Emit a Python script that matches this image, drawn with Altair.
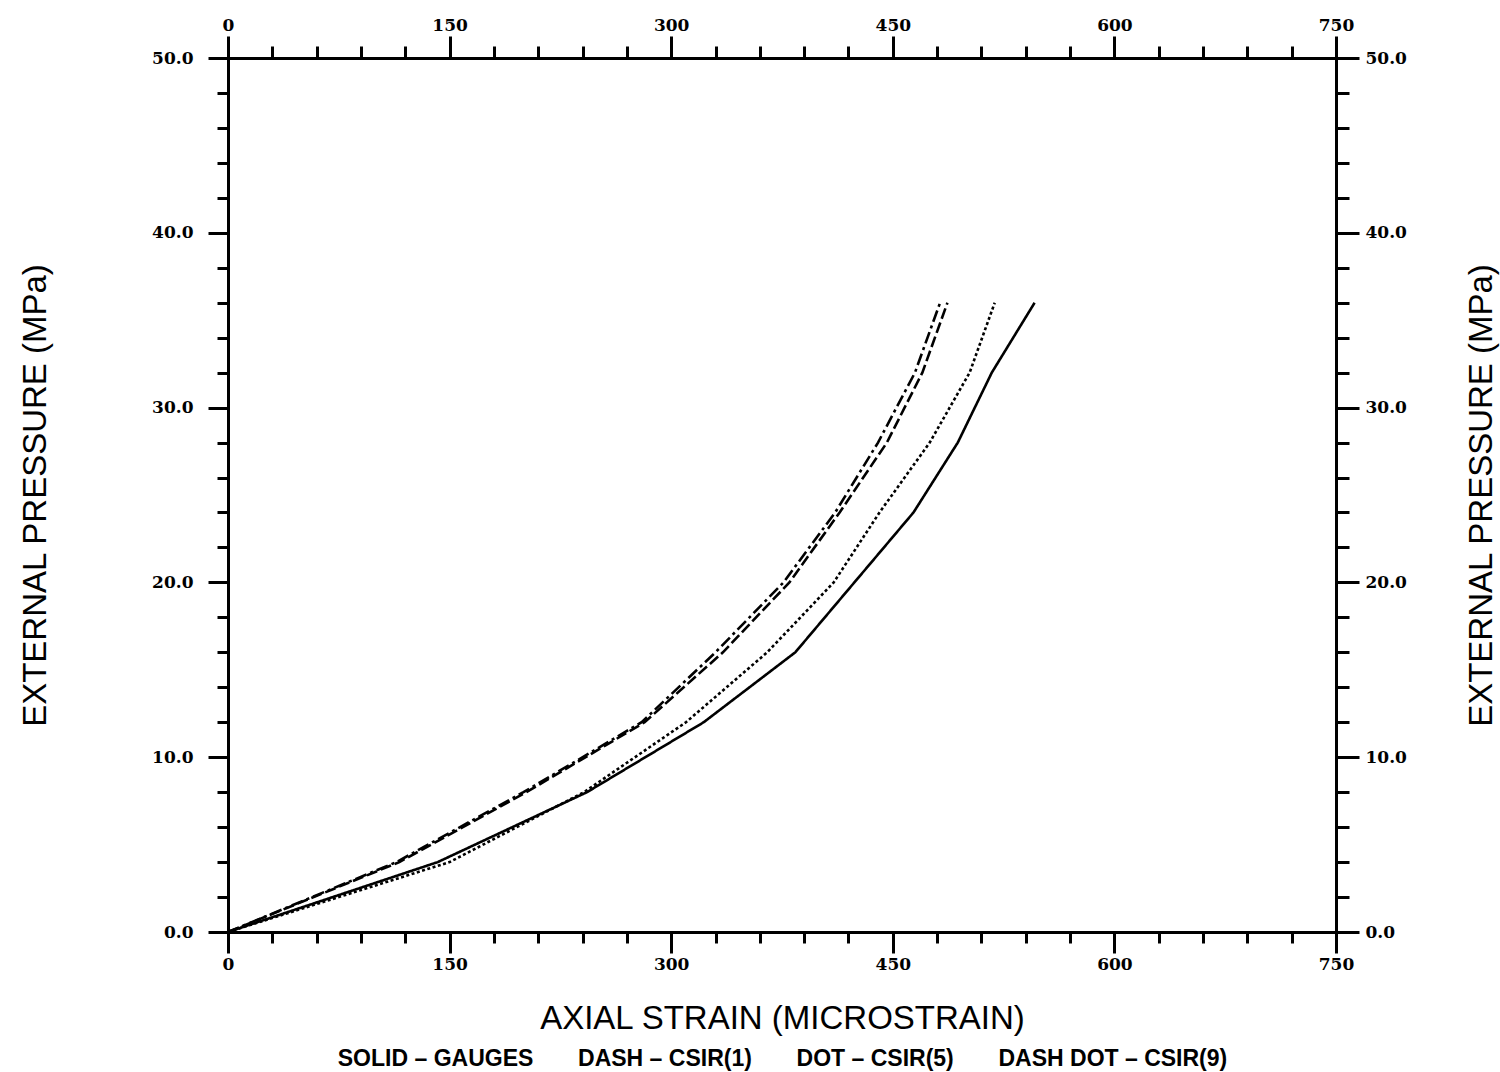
import altair as alt
import pandas as pd

# ---- data ----
pressure = [0, 4, 8, 12, 16, 20, 24, 28, 32, 36]          # MPa
gauges = [0, 142, 243, 322, 384, 424, 464, 494, 517, 546]  # solid
csir1 = [0, 116, 202, 282, 335, 380, 414, 446, 470, 487]   # dash
csir5 = [0, 150, 241, 310, 365, 410, 441, 475, 502, 519]   # dot
csir9 = [0, 114, 200, 280, 330, 376, 411, 440, 465, 482]   # dash dot
series_names = ["GAUGES", "CSIR(1)", "CSIR(5)", "CSIR(9)"]
dash_patterns = [[1, 0], [11, 4], [3, 2.5], [12, 4, 3, 4]]

x_minor = list(range(0, 751, 30))
x_major = list(range(0, 751, 150))
y_minor = list(range(0, 51, 2))
y_major = list(range(0, 51, 10))

x_title = "AXIAL STRAIN (MICROSTRAIN)"
y_title = "EXTERNAL PRESSURE (MPa)"
nb = "\u00a0" * 7
legend_text = ("SOLID \u2013 GAUGES" + nb + "DASH \u2013 CSIR(1)" + nb +
               "DOT \u2013 CSIR(5)" + nb + "DASH DOT \u2013 CSIR(9)")

rows = []
for name, vals in zip(series_names, [gauges, csir1, csir5, csir9]):
    for i, (p, s) in enumerate(zip(pressure, vals)):
        rows.append({"series": name, "strain": s, "pressure": p, "idx": i})
df = pd.DataFrame(rows)

xs = alt.Scale(domain=[0, 750], nice=False, zero=False)
ys = alt.Scale(domain=[0, 50], nice=False, zero=False)

common = dict(
    grid=False,
    domainColor="black", domainWidth=3,
    tickColor="black", tickWidth=3,
    labelFont="DejaVu Serif", labelFontWeight="bold", labelFontSize=17,
    labelColor="black", labelOverlap=False, labelFlush=False,
    titleFont="Liberation Sans", titleColor="black",
)

# bottom / left minor (lines layer)
ax_b_minor = alt.Axis(orient="bottom", values=x_minor, tickSize=11, labels=False,
                      title=legend_text, titleFontSize=23, titleFontWeight="bold",
                      titleY=126, titleBaseline="middle", **common)
ax_l_minor = alt.Axis(orient="left", values=y_minor, tickSize=11, labels=False,
                      title=None, **common)
# bottom / left major
ax_b_major = alt.Axis(orient="bottom", values=x_major, tickSize=21, format="d",
                      labelPadding=3, title=x_title, titleFontSize=33,
                      titleFontWeight="normal",
                      titleY=86, titleBaseline="middle", **common)
ax_l_major = alt.Axis(orient="left", values=y_major, tickSize=20, format=".1f",
                      labelPadding=15, title=y_title, titleFontSize=33,
                      titleFontWeight="normal",
                      titleAngle=270, titleX=-193, titleBaseline="middle",
                      titleAlign="center", **common)
# top / right minor
ax_t_minor = alt.Axis(orient="top", values=x_minor, tickSize=12, labels=False,
                      title=None, **common)
ax_r_minor = alt.Axis(orient="right", values=y_minor, tickSize=13, labels=False,
                      title=None, **common)
# top / right major
ax_t_major = alt.Axis(orient="top", values=x_major, tickSize=22, format="d",
                      labelPadding=2, title=None, **common)
ax_r_major = alt.Axis(orient="right", values=y_major, tickSize=23, format=".1f",
                      labelPadding=6, title=y_title, titleFontSize=33,
                      titleFontWeight="normal",
                      titleAngle=270, titleX=145, titleBaseline="middle",
                      titleAlign="center", **common)

lines = alt.Chart(df).mark_line(strokeWidth=2.6, color="black").encode(
    x=alt.X("strain:Q", scale=xs, axis=ax_b_minor),
    y=alt.Y("pressure:Q", scale=ys, axis=ax_l_minor),
    strokeDash=alt.StrokeDash("series:N", scale=alt.Scale(domain=series_names, range=dash_patterns), legend=None),
    detail="series:N",
    order="idx:Q",
)


def ghost(xax, yax):
    return alt.Chart(df).mark_point(opacity=0).encode(
        x=alt.X("strain:Q", scale=xs, axis=xax),
        y=alt.Y("pressure:Q", scale=ys, axis=yax),
    )


chart = alt.layer(
    lines,
    ghost(ax_b_major, ax_l_major),
    ghost(ax_t_minor, ax_r_minor),
    ghost(ax_t_major, ax_r_major),
).resolve_axis(x="independent", y="independent").properties(
    width=1108, height=874,
    autosize=alt.AutoSizeParams(type="none"),
    padding={"left": 228, "top": 58, "right": 164, "bottom": 140},
    background="white",
).configure_view(stroke=None)

chart.save("out.html", embed_options={"renderer": "svg", "actions": False})
